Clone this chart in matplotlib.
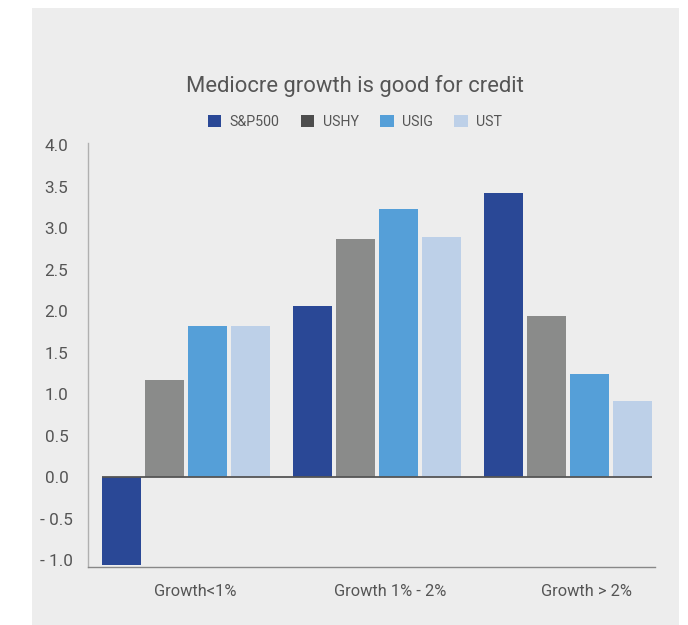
import matplotlib
matplotlib.use('Agg')
import matplotlib.pyplot as plt
from matplotlib.patches import Rectangle, Patch
import numpy as np

plt.rcParams['font.family'] = ['Roboto', 'DejaVu Sans']

# data
categories = ['Growth<1%', 'Growth 1% - 2%', 'Growth > 2%']
series = ['S&P500', 'USHY', 'USIG', 'UST']
sp500 = [-1.05, 2.07, 3.43]
ushy = [1.17, 2.87, 1.94]
usig = [1.82, 3.23, 1.24]
ust = [1.83, 2.90, 0.92]
yticks = [-1.0, -0.5, 0.0, 0.5, 1.0, 1.5, 2.0, 2.5, 3.0, 3.5, 4.0]
ytick_labels = ['- 1.0', '- 0.5', '0.0', '0.5', '1.0', '1.5', '2.0', '2.5', '3.0', '3.5', '4.0']

bar_colors = ['#2a4896', '#8a8b8a', '#559fd8', '#bdd0e8']
legend_colors = ['#2a4896', '#4d4d4d', '#559fd8', '#bdd0e8']
text_color = '#555555'
bg = '#ededed'

fig = plt.figure(figsize=(6.88, 6.25), dpi=100)
fig.patch.set_facecolor('white')
# grey card behind the chart
card = Rectangle((32 / 688, 0), (679 - 32) / 688, 1 - 8 / 625,
                 transform=fig.transFigure, facecolor=bg, edgecolor='none', zorder=-10)
fig.add_artist(card)

ax = fig.add_axes([88 / 688, 58 / 625, (655 - 88) / 688, 424 / 625])
ax.set_facecolor(bg)

x = np.arange(len(categories))
width = 0.2
step = 0.225
for i, (vals, c) in enumerate(zip([sp500, ushy, usig, ust], bar_colors)):
    ax.bar(x + (i - 1.5) * step, vals, width, color=c, zorder=2)

# zero line only spans the bars
ax.hlines(0, x[0] - 1.5 * step - width / 2, x[-1] + 1.5 * step + width / 2,
          color='#555555', lw=1.3, zorder=3)
ax.set_ylim(-1.08, 4.03)
ax.set_xlim(-0.513, 2.455)

ax.set_yticks(yticks)
ax.set_yticklabels(ytick_labels)
ax.set_xticks(x + np.array([0.047, 0.068, 0.094]))
ax.set_xticklabels(categories)
ax.tick_params(axis='y', length=0, pad=22.7, labelsize=12.3, labelcolor=text_color)
ax.tick_params(axis='x', length=0, pad=12, labelsize=11.8, labelcolor=text_color)
for lbl in ax.get_yticklabels():
    lbl.set_horizontalalignment('center')

for s in ['top', 'right']:
    ax.spines[s].set_visible(False)
ax.spines['left'].set_color('#b0b0b0')
ax.spines['left'].set_linewidth(1.0)
ax.spines['bottom'].set_color('#888888')
ax.spines['bottom'].set_linewidth(1.0)

fig.text(355 / 688, 1 - 86 / 625, 'Mediocre growth is good for credit',
         ha='center', va='center', fontsize=15.8, color=text_color)

handles = [Patch(facecolor=c, edgecolor='none') for c in legend_colors]
fig.legend(handles, series, loc='center', bbox_to_anchor=(355 / 688, 1 - 122 / 625),
           ncol=4, frameon=False, fontsize=10.2, labelcolor=text_color,
           handlelength=0.95, handleheight=0.95, handletextpad=0.6, columnspacing=1.5)

fig.savefig('out.png', dpi=100, facecolor=fig.get_facecolor())
